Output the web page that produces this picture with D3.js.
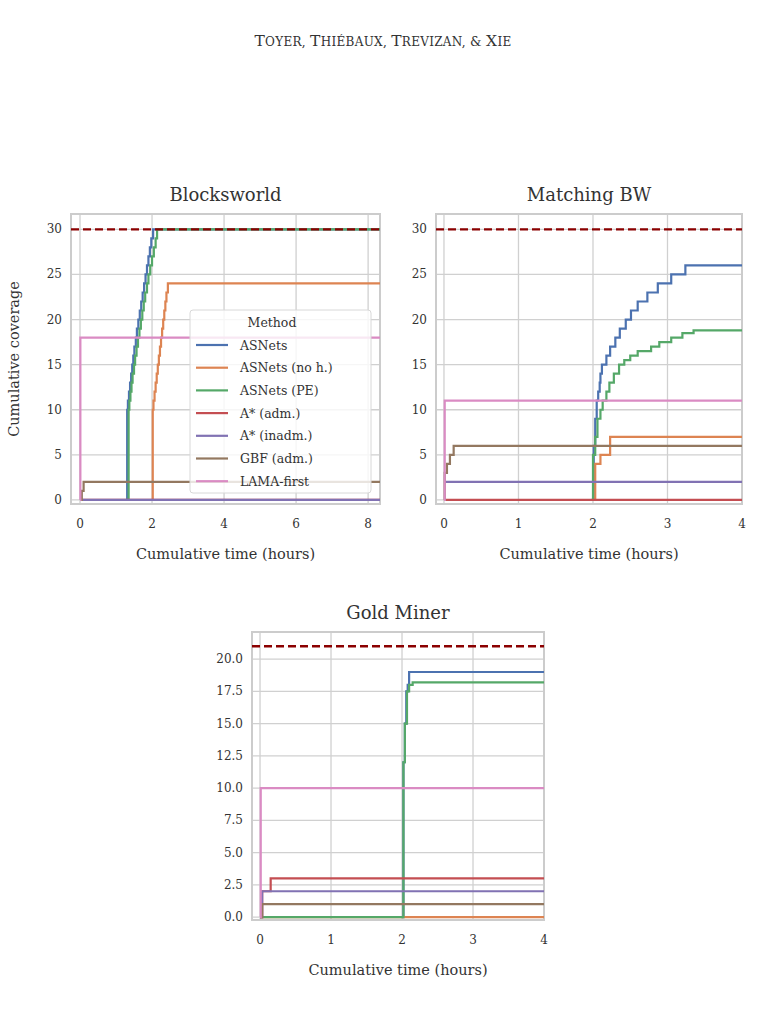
<!DOCTYPE html>
<html><head><meta charset="utf-8">
<script src="https://cdn.jsdelivr.net/npm/d3@7"></script>
<style>body{margin:0;background:#fff}text{font-family:"DejaVu Serif",serif;fill:#333}</style>
</head><body><svg id="c" width="767" height="1036"></svg>
<script>
const methods = ["ASNets","ASNets (no h.)","ASNets (PE)","A* (adm.)","A* (inadm.)","GBF (adm.)","LAMA-first"];
const colors = ["#4c72b0","#dd8452","#55a868","#c44e52","#8172b3","#937860","#da8bc3"];

// Blocksworld step series [hours, coverage]
const bwASNets = [[1.3,0],[1.31,10],[1.33,11],[1.36,12],[1.39,13],[1.42,14],[1.45,15],[1.48,16],[1.51,17],[1.55,18],[1.58,19],[1.62,20],[1.66,21],[1.7,22],[1.74,23],[1.78,24],[1.82,25],[1.86,26],[1.9,27],[1.94,28],[1.98,29],[2.03,30]];
const bwNoH = [[2.0,0],[2.02,10],[2.04,11],[2.07,12],[2.1,13],[2.13,14],[2.16,15],[2.19,16],[2.22,17],[2.25,18],[2.28,19],[2.31,20],[2.34,21],[2.37,22],[2.4,23],[2.44,24]];
const bwPE = [[1.33,0],[1.35,10],[1.37,11],[1.4,12],[1.43,13],[1.46,14],[1.5,15],[1.53,16],[1.57,17],[1.61,18],[1.65,19],[1.69,20],[1.73,21],[1.77,22],[1.81,23],[1.86,24],[1.9,25],[1.95,26],[2.0,27],[2.05,28],[2.1,29],[2.14,30]];
const bwAadm = [[0,0]];
const bwAinadm = [[0,0]];
const bwGBF = [[0,0],[0.05,1],[0.1,2]];
const bwLAMA = [[0,0],[0.01,18]];
const bwBound = 30;

// Matching BW
const mbASNets = [[2.0,0],[2.01,6],[2.03,9],[2.05,11],[2.07,12],[2.09,13],[2.1,14],[2.12,15],[2.18,16],[2.23,17],[2.3,18],[2.36,19],[2.44,20],[2.51,21],[2.6,22],[2.73,23],[2.87,24],[3.05,25],[3.24,26]];
const mbNoH = [[2.0,0],[2.03,4],[2.1,5],[2.23,7]];
const mbPE = [[1.98,0],[2.0,5],[2.03,7],[2.06,9],[2.1,10],[2.13,11],[2.18,12],[2.22,13],[2.28,14],[2.35,15],[2.42,15.5],[2.5,16],[2.6,16.5],[2.78,17],[2.89,17.5],[3.05,18],[3.2,18.5],[3.35,18.8]];
const mbAadm = [[0,0]];
const mbAinadm = [[0,2]];
const mbGBF = [[0,0],[0.01,3],[0.04,4],[0.08,5],[0.13,6]];
const mbLAMA = [[0,0],[0.01,11]];
const mbBound = 30;

// Gold Miner
const gmASNets = [[2.0,0],[2.02,12],[2.04,15],[2.06,17.5],[2.08,18],[2.1,19]];
const gmNoH = [[0,0]];
const gmPE = [[0,0],[2.0,0],[2.02,12],[2.04,15],[2.07,17.5],[2.1,18],[2.15,18.2]];
const gmAadm = [[0,0],[0.03,2],[0.15,3]];
const gmAinadm = [[0,0],[0.03,2]];
const gmGBF = [[0,0],[0.03,1]];
const gmLAMA = [[0,0],[0.01,10]];
const gmBound = 21;

const bwTicksX = [0,2,4,6,8], bwTicksY = [0,5,10,15,20,25,30];
const mbTicksX = [0,1,2,3,4], mbTicksY = [0,5,10,15,20,25,30];
const gmTicksX = [0,1,2,3,4], gmTicksY = [0,2.5,5,7.5,10,12.5,15,17.5,20];

const svg = d3.select("#c");
// small-caps running header
const hdr = svg.append("text").attr("x",383).attr("y",46).attr("text-anchor","middle").style("font-size","13px").style("letter-spacing","0.3px");
["Toyer, ","Thiébaux, ","Trevizan, ","& ","Xie"].forEach(w=>{
  const first = w[0], rest = w.slice(1);
  hdr.append("tspan").style("font-size", first==="&"?"13px":"15.5px").text(first==="&"?"&":first.toUpperCase());
  hdr.append("tspan").style("font-size","12px").text(rest.toUpperCase());
});

function panel(o){
  const x = d3.scaleLinear().domain(o.xd).range([o.l,o.r]);
  const y = d3.scaleLinear().domain(o.yd).range([o.b,o.t]);
  const g = svg.append("g");
  g.selectAll(".gx").data(o.tx).join("line").attr("x1",d=>x(d)).attr("x2",d=>x(d)).attr("y1",o.t).attr("y2",o.b).attr("stroke","#d0d0d0").attr("stroke-width",1.3);
  g.selectAll(".gy").data(o.ty).join("line").attr("y1",d=>y(d)).attr("y2",d=>y(d)).attr("x1",o.l).attr("x2",o.r).attr("stroke","#d0d0d0").attr("stroke-width",1.3);
  g.append("rect").attr("x",o.l).attr("y",o.t).attr("width",o.r-o.l).attr("height",o.b-o.t).attr("fill","none").attr("stroke","#cccccc").attr("stroke-width",2);
  g.selectAll(".lx").data(o.tx).join("text").attr("x",d=>x(d)).attr("y",o.b+24).attr("text-anchor","middle").style("font-size","12px").text(d=>d);
  g.selectAll(".ly").data(o.ty).join("text").attr("x",o.l-9).attr("y",d=>y(d)+4).attr("text-anchor","end").style("font-size","12px").text(d=>o.fmt?d.toFixed(1):d);
  g.append("text").attr("x",(o.l+o.r)/2).attr("y",o.t-13).attr("text-anchor","middle").style("font-size","18px").text(o.title);
  g.append("text").attr("x",(o.l+o.r)/2).attr("y",o.b+55).attr("text-anchor","middle").style("font-size","14.5px").text("Cumulative time (hours)");
  const clip = "clip"+o.id;
  svg.append("clipPath").attr("id",clip).append("rect").attr("x",o.l).attr("y",o.t).attr("width",o.r-o.l).attr("height",o.b-o.t);
  const line = d3.line().x(d=>x(d[0])).y(d=>y(d[1])).curve(d3.curveStepAfter);
  const pg = g.append("g").attr("clip-path",`url(#${clip})`);
  o.series.forEach((s,i)=>{
    const pts = s.concat([[o.xd[1]+1, s[s.length-1][1]]]);
    pg.append("path").attr("d",line(pts)).attr("fill","none").attr("stroke",colors[i]).attr("stroke-width",2.2);
  });
  pg.append("line").attr("x1",o.l).attr("x2",o.r).attr("y1",y(o.bound)).attr("y2",y(o.bound)).attr("stroke","#8b0000").attr("stroke-width",2.4).attr("stroke-dasharray","8,4");
  return g;
}

panel({id:1,title:"Blocksworld",l:71,r:380,t:214,b:504,xd:[-0.25,8.33],yd:[-0.45,31.7],tx:bwTicksX,ty:bwTicksY,bound:bwBound,
  series:[bwASNets,bwNoH,bwPE,bwAadm,bwAinadm,bwGBF,bwLAMA]});
panel({id:2,title:"Matching BW",l:436,r:742,t:214,b:504,xd:[-0.107,4],yd:[-0.45,31.7],tx:mbTicksX,ty:mbTicksY,bound:mbBound,
  series:[mbASNets,mbNoH,mbPE,mbAadm,mbAinadm,mbGBF,mbLAMA]});
panel({id:3,title:"Gold Miner",l:252,r:544,t:632,b:920,xd:[-0.113,4],yd:[-0.23,22.1],tx:gmTicksX,ty:gmTicksY,bound:gmBound,fmt:true,
  series:[gmASNets,gmNoH,gmPE,gmAadm,gmAinadm,gmGBF,gmLAMA]});

svg.append("text").attr("transform","translate(19,359) rotate(-90)").attr("text-anchor","middle").style("font-size","14.5px").text("Cumulative coverage");

// legend
const lg = svg.append("g");
lg.append("rect").attr("x",190).attr("y",310).attr("width",181).attr("height",183).attr("rx",3).attr("fill","rgba(255,255,255,0.8)").attr("stroke","#d8d8d8");
lg.append("text").attr("x",272).attr("y",327).attr("text-anchor","middle").style("font-size","12.5px").text("Method");
methods.forEach((m,i)=>{
  const yy = 345+i*22.7;
  lg.append("line").attr("x1",196).attr("x2",228).attr("y1",yy).attr("y2",yy).attr("stroke",colors[i]).attr("stroke-width",2.2);
  lg.append("text").attr("x",240).attr("y",yy+4.5).style("font-size","12.5px").text(m);
});
</script></body></html>
